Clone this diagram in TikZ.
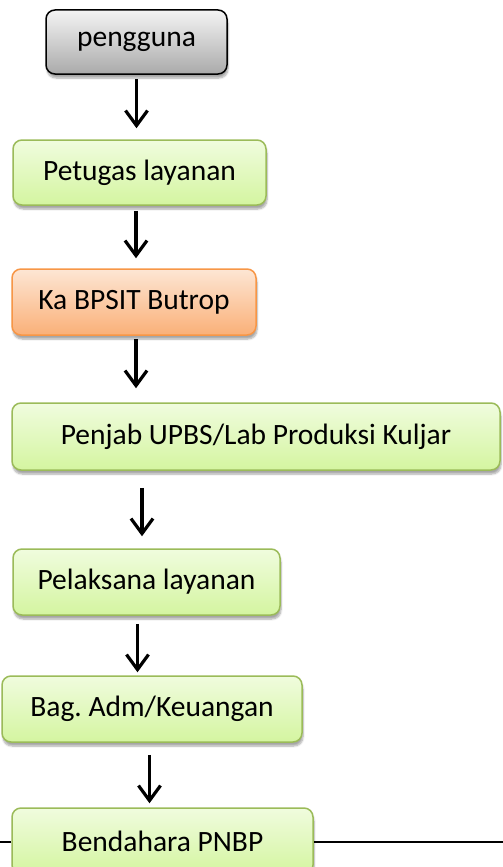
\documentclass[tikz,border=0pt]{standalone}
\usepackage{fontspec}
\setmainfont{Carlito}
\usepackage{tikz}
\usetikzlibrary{arrows.meta,shadows.blur}
\definecolor{gborder}{RGB}{155,187,89}
\definecolor{gtop}{RGB}{240,252,222}
\definecolor{gbot}{RGB}{212,245,160}
\definecolor{oborder}{RGB}{247,150,70}
\definecolor{otop}{RGB}{253,230,212}
\definecolor{obot}{RGB}{250,176,120}
\definecolor{ktop}{RGB}{244,244,244}
\definecolor{kbot}{RGB}{170,170,170}

\begin{document}
\begin{tikzpicture}[x=1pt, y=-1pt,
		box/.style={rounded corners=9pt, line width=1.5pt, font=\fontsize{29.5}{35}\selectfont,
			blur shadow={shadow xshift=1pt, shadow yshift=-4pt, shadow opacity=35, shadow blur steps=6}},
		greenbox/.style={box, draw=gborder, top color=gtop, bottom color=gbot},
		orangebox/.style={box, draw=oborder, top color=otop, bottom color=obot},
		graybox/.style={box, draw=black, top color=ktop, bottom color=kbot},
		flow/.style={line width=3.2pt, -{Straight Barb[length=15pt, width=22pt, line width=3.2pt]}}]
			\useasboundingbox (0,0) rectangle (503,867);
			\node[graybox, minimum width=181pt, minimum height=64pt] (user) at (136.5,42) {pengguna};
			\node[greenbox, minimum width=253pt, minimum height=65pt] (petugas) at (139.5,172.5) {Petugas layanan};
			\node[orangebox, minimum width=244pt, minimum height=66pt] (kabpsit) at (134,302) {Ka BPSIT Butrop};
			\node[greenbox, minimum width=488pt, minimum height=67pt] (penjab) at (256,436.5) {Penjab UPBS/Lab Produksi Kuljar};
			\node[greenbox, minimum width=267pt, minimum height=66pt] (pelaksana) at (146.5,582) {Pelaksana layanan};
			\node[greenbox, minimum width=300pt, minimum height=66pt] (bagadm) at (152,709) {Bag.\ Adm/Keuangan};
			\node[greenbox, minimum width=301pt, minimum height=66pt] (bendahara) at (162.5,841) {Bendahara PNBP};
			\coordinate (leftend) at (0,842);
			\coordinate (rightend) at (503,842);
			\draw[flow, shorten <=4pt, shorten >=11pt] (user.south) -- (user.south |- petugas.north);
			\draw[flow, shorten <=5pt, shorten >=10pt] ([xshift=-3.5pt]petugas.south) -- ([xshift=-3.5pt]petugas.south |- kabpsit.north);
			\draw[flow, shorten <=3pt, shorten >=14pt] ([xshift=2pt]kabpsit.south) -- ([xshift=2pt]kabpsit.south |- penjab.north);
			\draw[flow, shorten <=17pt, shorten >=12pt] (penjab.south -| pelaksana.north) ++(-4.5pt,0) -- ([xshift=-4.5pt]pelaksana.north);
			\draw[flow, shorten <=8pt, shorten >=3pt] ([xshift=-9pt]pelaksana.south) -- ([xshift=-9pt]pelaksana.south |- bagadm.north);
			\draw[flow, shorten <=12pt, shorten >=4pt] ([xshift=-2.5pt]bagadm.south) -- ([xshift=-2.5pt]bagadm.south |- bendahara.north);
			\draw[line width=1.5pt] (bendahara.west |- leftend) -- (leftend);
			\draw[line width=1.5pt] (bendahara.east |- rightend) -- (rightend);
		\end{tikzpicture}
\end{document}
